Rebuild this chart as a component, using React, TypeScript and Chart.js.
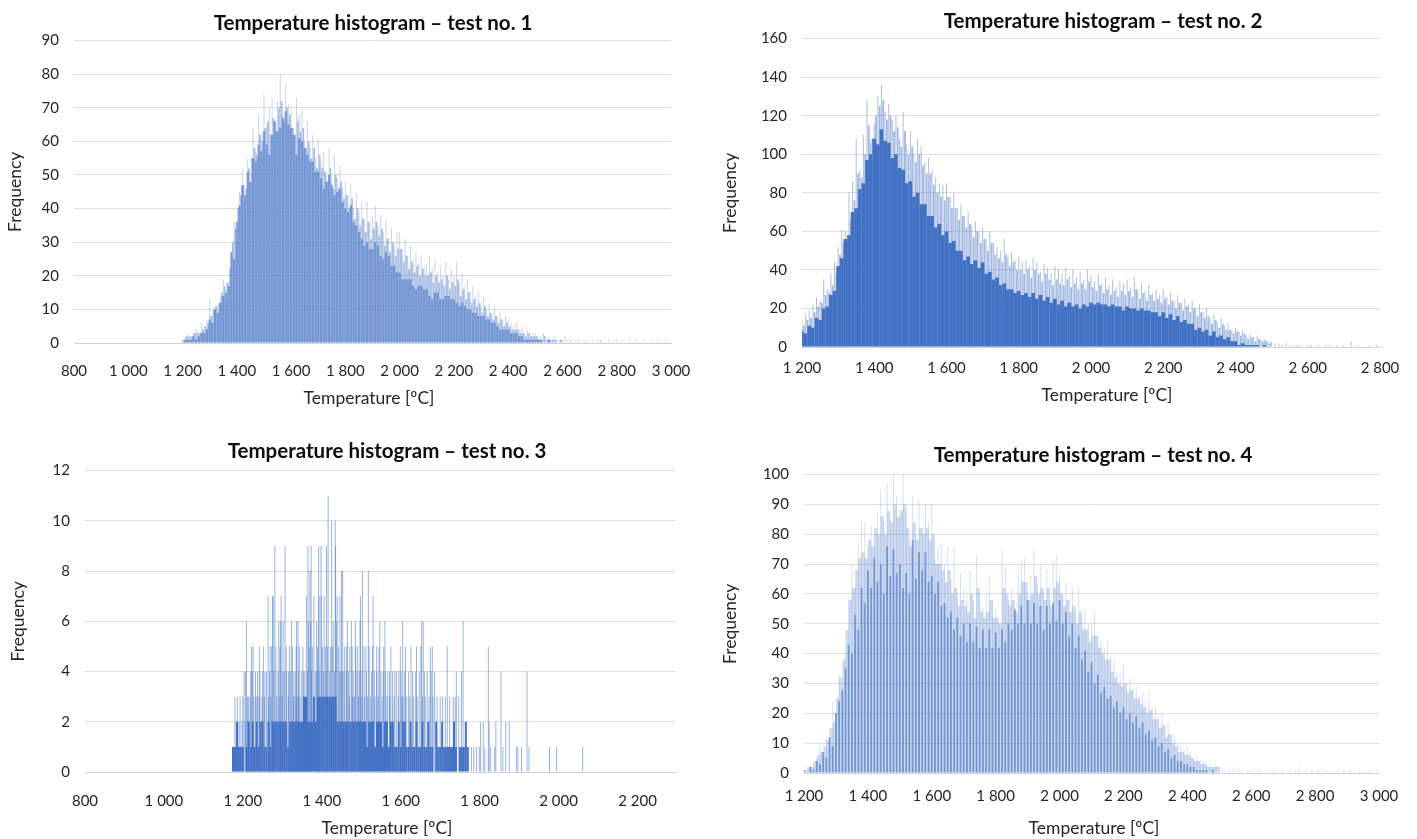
import React, { useEffect, useRef } from "react";
import { Chart, registerables } from "chart.js";

Chart.register(...registerables);

const FONT = "Lato, Carlito, 'Open Sans', sans-serif";

// ---- test no. 1: tallest, middle and body heights per 10 degree bin
const test1Peaks = [
  1,2,3,2,3,4,3,6,5,7,
  13,8,11,9,14,19,13,18,27,36,
  30,45,52,40,55,48,64,57,68,62,
  74,65,70,73,66,72,80,68,77,71,
  70,64,73,68,70,60,66,58,62,55,
  61,54,57,50,58,48,56,49,53,46,
  48,44,47,40,45,39,42,37,42,36,
  38,41,35,38,33,37,31,34,29,33,
  33,28,31,26,29,25,27,24,26,23,
  24,26,22,25,21,23,20,24,19,22,
  20,24,18,21,17,19,15,17,14,15,
  11,14,10,12,9,11,8,9,7,8,
  7,6,5,6,4,5,3,4,3,3,
  3,2,2,3,1,2,1,2,1,1,
  1,2,1,1,0,1,1,0,1,1,
  0,1,0,1,1,0,0,1,0,1,
  1,0,1,0,0,1,0,1,0,0,
  1,0,0,1,0,1,0,0,1,0,
  0,
];
const test1Mid = [
  1,2,2,2,3,3,3,4,5,6,
  8,10,11,12,15,17,18,22,30,34,
  40,44,47,46,52,55,58,56,62,60,
  64,66,62,67,63,70,72,66,70,68,
  64,62,66,63,64,58,60,55,58,52,
  56,52,51,48,52,46,50,46,48,43,
  44,40,43,37,40,35,37,33,36,31,
  34,36,32,34,29,31,27,30,26,28,
  28,24,26,22,24,21,23,20,22,20,
  20,21,18,20,18,19,17,20,16,18,
  17,19,14,16,13,15,12,13,11,12,
  9,11,8,9,7,8,6,7,5,6,
  5,4,4,4,3,3,2,3,2,2,
  2,1,1,2,1,1,1,1,0,1,
];
const test1Body = [
  0,1,1,1,2,1,2,3,3,4,
  7,6,10,9,12,14,15,17,27,25,
  36,41,47,44,51,48,55,54,59,57,
  63,59,56,62,66,63,64,67,69,65,
  64,62,56,61,60,58,56,54,54,51,
  51,49,46,48,50,47,44,45,46,42,
  40,39,41,36,35,33,31,29,30,28,
  28,30,29,26,25,27,26,23,23,21,
  21,19,19,19,19,17,16,17,17,16,
  16,14,13,15,15,13,13,14,14,13,
  13,12,11,12,11,10,10,9,9,8,
  8,8,7,7,6,6,5,4,4,4,
  4,3,3,3,2,2,1,1,1,1,
  1,1,1,0,0,1,0,0,0,0,
  0,
];

// ---- test no. 2
const test2Peaks = [
  14,17,19,22,26,24,35,30,38,44,
  52,61,60,80,86,108,92,110,128,106,
  116,130,136,122,126,118,120,108,122,105,
  112,100,108,104,96,98,92,88,85,84,
  85,78,80,72,74,68,70,63,65,60,
  62,56,60,54,52,50,56,47,49,45,
  47,44,45,42,46,44,39,43,41,38,
  42,40,38,41,37,40,36,39,35,40,
  37,34,38,33,36,32,35,31,34,33,
  35,31,36,30,33,29,32,28,30,27,
  30,26,28,24,27,23,25,22,24,20,
  22,18,20,15,17,13,15,11,12,9,
  10,8,9,6,7,5,6,4,4,3,
  3,2,2,1,2,1,1,1,1,0,
  1,1,0,1,0,1,1,0,1,0,
  1,0,3,0,1,0,0,1,0,1,
  0,
];
const test2Mid = [
  11,14,15,18,21,23,27,28,32,38,
  48,54,56,66,76,90,88,100,115,108,
  120,125,128,118,120,112,114,104,112,100,
  104,96,100,94,90,90,84,80,78,76,
  78,72,72,66,68,62,64,57,60,54,
  56,50,54,48,46,44,48,42,44,40,
  40,38,40,36,40,38,34,38,35,32,
  35,33,32,35,31,33,30,33,30,34,
  31,29,32,28,30,27,29,26,29,27,
  29,26,30,25,28,24,27,24,25,23,
  25,22,24,20,23,19,21,18,20,16,
  18,15,16,12,14,10,12,9,9,7,
  8,6,7,4,5,3,4,3,3,2,
];
const test2Body = [
  8,7,11,10,15,14,20,21,27,29,
  42,46,56,58,70,72,82,85,97,100,
  108,105,113,107,106,98,100,93,92,85,
  86,78,80,74,74,68,68,62,64,58,
  60,54,55,50,50,45,47,43,45,41,
  44,38,39,35,36,32,33,30,30,28,
  29,27,28,26,28,25,27,24,26,23,
  25,22,24,21,23,21,22,20,22,21,
  23,22,23,22,22,21,22,21,21,19,
  21,20,20,19,20,19,19,18,18,16,
  18,15,17,14,16,13,14,12,12,9,
  10,8,9,6,8,5,6,4,5,3,
  3,1,2,1,1,1,1,0,1,0,
  0,
];

// ---- test no. 3: 5 degree bins from 1175, then single spikes by height
const test3Body = [
  1,1,2,1,1,1,0,1,2,1,
  2,1,2,1,2,2,1,1,2,1,
  2,2,2,2,2,2,2,2,1,2,
  2,2,2,2,2,2,3,3,2,2,
  2,3,2,3,3,3,3,3,3,3,
  3,3,3,2,2,2,2,2,2,2,
  2,2,2,2,2,2,2,2,1,2,
  2,2,1,2,2,2,1,2,2,1,
  2,2,1,1,2,1,2,2,1,1,
  2,1,1,2,1,1,2,1,1,2,
  1,1,0,2,1,1,2,1,1,1,
  1,1,2,1,0,1,1,1,2,1,
  0,
];
const test3Freq11 = [1416];
const test3Freq10 = [1425,1434];
const test3Freq9 = [1281,1307,1365,1373,1392,1398,1412,1435];
const test3Freq8 = [1370,1450,1453,1503,1518];
const test3Freq7 = [1264,1275,1277,1297,1361,1380,1393,1399,1406,1439,1446,1498,1530];
const test3Freq6 = [1209,1291,1296,1302,1323,1336,1340,1366,1372,1387,1429,1437,1465,1475,1485,1497,1547,1560,1605,1653,1657,1758];
const test3Freq5 = [1222,1226,1242,1252,1269,1273,1284,1294,1310,1318,1326,1335,1343,1352,1368,1376,1389,1402,1409,1415,1422,1427,1442,1458,1463,1471,1477,1486,1491,1507,1512,1520,1529,1539,1545,1557,1575,1599,1612,1626,1640,1651,1675,1680,1718,1822];
const test3Freq4 = [1203,1207,1220,1224,1232,1237,1243,1250,1256,1260,1268,1279,1289,1301,1305,1311,1316,1321,1329,1334,1341,1349,1354,1357,1364,1374,1383,1386,1390,1395,1404,1411,1420,1432,1444,1448,1452,1456,1462,1468,1480,1489,1495,1502,1513,1526,1533,1540,1550,1556,1561,1567,1572,1579,1585,1589,1595,1601,1610,1620,1630,1637,1647,1660,1667,1677,1686,1741,1754,1854,1920];
const test3Freq3 = [1180,1186,1193,1200,1212,1214,1218,1228,1234,1239,1248,1255,1265,1271,1285,1292,1299,1315,1328,1332,1338,1345,1354,1362,1470,1478,1483,1493,1500,1508,1516,1523,1535,1543,1553,1565,1572,1583,1594,1603,1606,1615,1623,1632,1642,1655,1662,1672,1682,1692,1700,1706,1713,1724,1733,1738,1747];
const test3Freq2 = [1190,1198,1206,1211,1802,1809,1824,1841,1866,1875];
const test3Freq1 = [1779,1785,1792,1799,1813,1828,1838,1859,1893,1897,1906,1925,1977,1995,2061];

// ---- test no. 4
const test4Peaks = [
  2,1,3,3,5,10,6,12,9,24,
  20,33,27,40,59,70,62,78,85,84,
  76,83,80,88,95,84,97,85,100,93,
  86,100,88,78,93,80,92,82,90,84,
  90,72,75,77,70,76,65,76,60,67,
  62,60,68,58,73,60,55,60,66,58,
  55,50,75,69,58,62,54,68,71,72,
  60,66,75,64,70,61,68,58,71,73,
  68,60,64,58,62,55,62,52,55,50,
  50,54,46,44,42,44,40,38,34,33,
  36,30,32,28,29,26,27,24,27,22,
  22,19,20,16,17,13,12,10,9,8,
  9,7,5,6,4,4,3,3,2,3,
  2,2,1,2,1,1,2,1,0,1,
  1,0,1,1,0,1,0,1,1,0,
  1,0,1,0,1,2,0,1,0,1,
  0,1,0,1,1,0,0,1,0,1,
  0,1,0,0,1,0,0,1,0,0,
  0,
];
const test4Mid = [
  1,2,2,4,6,7,9,11,15,17,
  25,32,38,48,58,62,68,72,74,72,
  78,76,82,80,86,80,88,84,90,86,
  88,90,82,76,84,78,82,80,82,78,
  80,70,70,68,64,68,60,62,56,58,
  56,54,60,52,62,54,52,54,58,52,
  52,50,62,60,56,58,54,60,64,64,
  58,60,66,60,62,58,62,56,62,64,
  60,56,58,54,56,50,54,48,48,44,
  46,46,42,40,38,38,34,32,30,29,
  30,27,28,25,25,23,22,20,21,18,
  18,15,16,12,13,10,9,7,7,6,
  6,5,4,4,3,3,2,2,2,2,
];
const test4Body = [
  1,0,2,1,4,3,7,5,12,9,
  20,24,28,35,43,40,53,48,62,57,
  68,62,72,64,70,60,76,66,75,67,
  70,62,67,60,78,65,74,68,74,64,
  66,60,64,56,57,52,54,48,52,46,
  50,44,50,44,49,42,48,42,48,42,
  47,42,48,44,50,48,55,50,56,50,
  58,50,57,50,56,48,56,50,57,51,
  58,50,54,46,50,42,46,38,41,34,
  37,30,33,27,29,25,26,22,24,20,
  22,18,20,17,19,15,17,13,14,11,
  12,9,10,7,8,5,6,4,4,3,
  3,2,2,1,1,1,1,0,1,0,
  0,
];

const titles = [
  "Temperature histogram – test no. 1",
  "Temperature histogram – test no. 2",
  "Temperature histogram – test no. 3",
  "Temperature histogram – test no. 4",
];
const xAxisTitle = "Temperature [ºC]";
const yAxisTitle = "Frequency";

type Pt = { x: number; y: number };
const binned = (values: number[], start: number, step: number): Pt[] =>
  values.map((y, i) => ({ x: start + i * step, y }));
const spikes = (temps: number[], y: number): Pt[] => temps.map((x) => ({ x, y }));

const placement = {
  id: "placement",
  afterLayout(chart: any, _a: any, o: any) {
    const t = chart.titleBlock;
    const dx = o.titleCenter - (t.left + t.right) / 2;
    t.left += dx;
    t.right += dx;
  },
  afterDraw(chart: any, _a: any, o: any) {
    const c = chart.ctx;
    c.save();
    c.font = `17.5px ${FONT}`;
    c.fillStyle = "#262626";
    c.textAlign = "center";
    c.textBaseline = "middle";
    c.fillText(o.text, o.x, o.y);
    c.restore();
  },
};

const spaced = (v: any) => {
  const n = Number(v);
  return n >= 1000 ? `${Math.floor(n / 1000)} ${String(n % 1000).padStart(3, "0")}` : String(n);
};

type Spec = {
  left: number; top: number; width: number; height: number;
  axisW: number; axisH: number; padRight: number;
  titleTop: number; titleBottom: number; titleCenter: number; yTitlePad: number; tickPad: number;
  xMin: number; xMax: number; yMax: number; yStep: number;
  capX: number; capY: number; title: string;
  datasets: any[];
};

const bars = (data: Pt[], color: string, thickness: number) => ({
  data,
  backgroundColor: color,
  barThickness: thickness,
  grouped: false,
  borderWidth: 0,
  inflateAmount: 0,
});

const specs: Spec[] = [
  {
    left: 0, top: 0, width: 746, height: 413, axisW: 74, axisH: 70, padRight: 75,
    titleTop: 11, titleBottom: 5, titleCenter: 373, yTitlePad: 4.5, tickPad: 19,
    xMin: 800, xMax: 3000, yMax: 90, yStep: 10, capX: 369, capY: 398, title: titles[0],
    datasets: [
      bars(binned(test1Peaks, 1200, 10), "rgba(68,114,196,0.3)", 1),
      bars(binned(test1Mid, 1205, 10), "rgba(68,114,196,0.45)", 1.8),
      bars(binned(test1Body, 1200, 10), "rgba(68,114,196,0.6)", 2.2),
    ],
  },
  {
    left: 716, top: 0, width: 774, height: 407, axisW: 86, axisH: 60, padRight: 110,
    titleTop: 9, titleBottom: 5, titleCenter: 387, yTitlePad: 4, tickPad: 12.5,
    xMin: 1200, xMax: 2800, yMax: 160, yStep: 20, capX: 391, capY: 395, title: titles[1],
    datasets: [
      bars(binned(test2Peaks, 1200, 10), "rgba(68,114,196,0.45)", 1),
      bars(binned(test2Mid, 1205, 10), "rgba(68,114,196,0.5)", 1.8),
      bars(binned(test2Body, 1200, 10), "#4472C4", 3.7),
    ],
  },
  {
    left: 0, top: 425, width: 774, height: 414, axisW: 85, axisH: 67, padRight: 99,
    titleTop: 14, titleBottom: 7, titleCenter: 387, yTitlePad: 7.5, tickPad: 20,
    xMin: 800, xMax: 2295, yMax: 12, yStep: 2, capX: 387, capY: 403, title: titles[2],
    datasets: [
      bars(
        [
          ...spikes(test3Freq11, 11), ...spikes(test3Freq10, 10), ...spikes(test3Freq9, 9),
          ...spikes(test3Freq8, 8), ...spikes(test3Freq7, 7), ...spikes(test3Freq6, 6),
          ...spikes(test3Freq5, 5), ...spikes(test3Freq4, 4), ...spikes(test3Freq3, 3),
          ...spikes(test3Freq2, 2), ...spikes(test3Freq1, 1),
        ],
        "rgba(68,114,196,0.55)",
        1
      ),
      bars(binned(test3Body, 1175, 5), "#4472C4", 2),
    ],
  },
  {
    left: 716, top: 425, width: 754, height: 414, axisW: 88, axisH: 66, padRight: 91,
    titleTop: 18, titleBottom: 7, titleCenter: 377, yTitlePad: 4, tickPad: 14.5,
    xMin: 1200, xMax: 3000, yMax: 100, yStep: 10, capX: 378, capY: 403, title: titles[3],
    datasets: [
      bars(binned(test4Peaks, 1200, 10), "rgba(68,114,196,0.22)", 1),
      bars(binned(test4Mid, 1205, 10), "rgba(68,114,196,0.26)", 3.2),
      bars(binned(test4Body, 1200, 10), "rgba(68,114,196,0.6)", 1.9),
    ],
  },
];

function Panel({ spec }: { spec: Spec }) {
  const ref = useRef<HTMLCanvasElement | null>(null);
  useEffect(() => {
    if (!ref.current) return;
    const chart = new Chart(ref.current, {
      type: "bar",
      data: { datasets: spec.datasets },
      plugins: [placement],
      options: {
        responsive: false,
        animation: false,
        layout: { padding: { left: 0, right: spec.padRight, top: 0, bottom: 0 } },
        plugins: {
          legend: { display: false },
          tooltip: { enabled: false },
          title: {
            display: true,
            text: spec.title,
            color: "#0d0d0d",
            font: { family: FONT, size: 20.5, weight: "bold" },
            padding: { top: spec.titleTop, bottom: spec.titleBottom },
          },
          placement: { titleCenter: spec.titleCenter, text: xAxisTitle, x: spec.capX, y: spec.capY },
        } as any,
        scales: {
          x: {
            type: "linear",
            offset: false,
            min: spec.xMin,
            max: spec.xMax,
            grid: { display: false, drawTicks: false },
            border: { color: "#d0d0d0" },
            afterFit: (s: any) => { s.height = spec.axisH; },
            ticks: {
              stepSize: 200,
              includeBounds: false,
              padding: spec.tickPad,
              maxRotation: 0,
              autoSkip: false,
              color: "#262626",
              font: { family: FONT, size: 15 },
              callback: spaced,
            },
          },
          y: {
            min: 0,
            max: spec.yMax,
            grid: { color: "#dedede", drawTicks: false },
            border: { display: false },
            afterFit: (s: any) => { s.width = spec.axisW; },
            title: {
              display: true,
              text: yAxisTitle,
              color: "#262626",
              font: { family: FONT, size: 17.5 },
              padding: { top: spec.yTitlePad, bottom: 0 },
            },
            ticks: {
              stepSize: spec.yStep,
              padding: 15,
              color: "#262626",
              font: { family: FONT, size: 15 },
            },
          },
        },
      } as any,
    });
    return () => chart.destroy();
  }, [spec]);
  return (
    <canvas
      ref={ref}
      width={spec.width}
      height={spec.height}
      style={{ position: "absolute", left: spec.left, top: spec.top, width: spec.width, height: spec.height }}
    />
  );
}

export default function App() {
  return (
    <div style={{ position: "absolute", left: 0, top: 0, width: 1417, height: 839, overflow: "hidden", background: "#fff" }}>
      {specs.map((s, i) => (
        <Panel key={i} spec={s} />
      ))}
    </div>
  );
}
